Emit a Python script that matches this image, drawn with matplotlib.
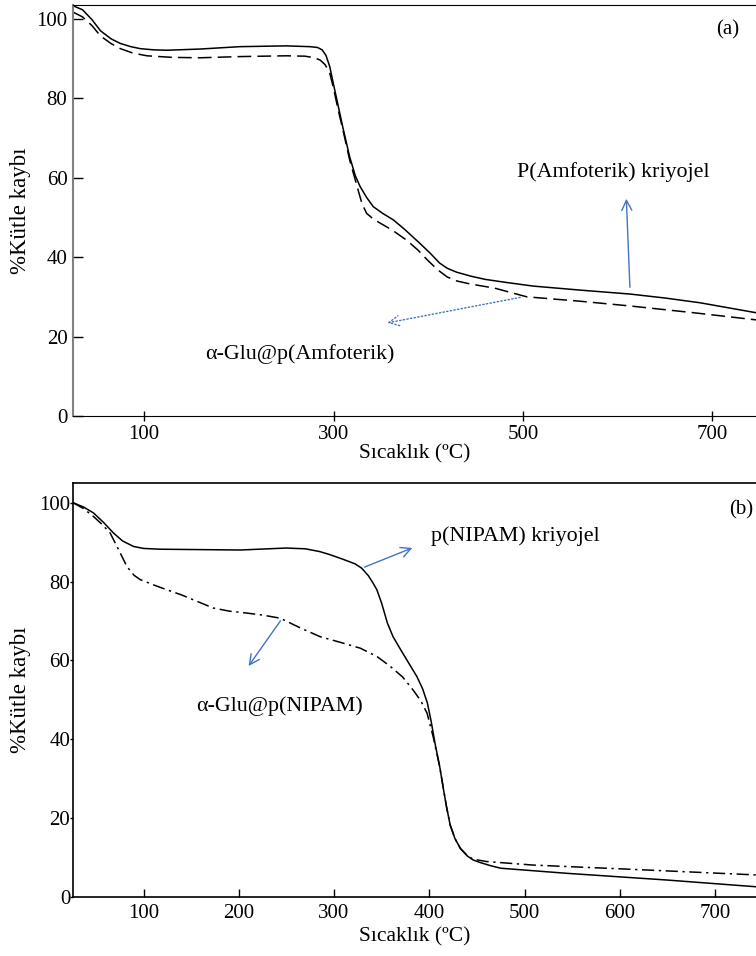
import matplotlib.pyplot as plt

plt.rcParams['font.family'] = ['Liberation Serif', 'DejaVu Serif']
plt.rcParams['font.size'] = 15

# (a) P(Amfoterik) kriyojel and α-Glu@p(Amfoterik)
temp_amf = [25, 35, 45, 54, 65, 75, 86, 96, 110, 124, 159, 201, 250, 275, 283, 288, 292,
            296, 300, 305, 310, 317, 323, 328, 335, 342, 352, 363, 375, 391, 402, 412, 420,
            430, 445, 460, 480, 511, 560, 613, 650, 687, 746]
kayip_amf = [103.3, 102.3, 99.8, 97.0, 95.0, 93.8, 93.0, 92.5, 92.2, 92.1, 92.4, 93.0, 93.2,
             93.0, 92.8, 92.2, 90.8, 88.0, 83.5, 78.0, 72.5, 65.3, 60.5, 57.8, 55.0, 52.7,
             51.0, 49.4, 47.0, 43.5, 41.0, 38.5, 37.2, 36.2, 35.2, 34.4, 33.7, 32.7, 31.7,
             30.7, 29.7, 28.5, 26.0]

temp_glu_amf = [25, 35, 45, 54, 65, 75, 88, 103, 130, 159, 201, 250, 270, 280, 286, 291, 296,
                300, 305, 310, 317, 325, 330, 335, 342, 349, 362, 377, 389, 399, 410, 420,
                430, 445, 470, 504, 560, 613, 680, 746]
kayip_glu_amf = [101.7, 100.5, 98.3, 95.7, 93.8, 92.5, 91.4, 90.7, 90.3, 90.2, 90.5, 90.7, 90.6,
                 90.2, 89.6, 88.5, 86.4, 82.5, 77.0, 72.0, 64.5, 57.7, 53.5, 51.0, 49.6, 48.6,
                 46.8, 44.3, 41.8, 39.3, 36.8, 35.0, 34.0, 33.2, 32.2, 30.0, 28.9, 27.7, 26.0,
                 24.2]

# (b) p(NIPAM) kriyojel and α-Glu@p(NIPAM)
temp_nipam = [26, 37, 47.5, 58, 68.5, 78, 89.5, 100, 117.5, 160, 201.6, 250, 270, 285, 296,
              310, 322, 329, 336, 341, 345, 350, 356, 362, 370, 378, 387, 393, 398, 402, 406,
              411, 415, 418, 422, 427, 432.7, 440, 446, 454, 465, 475, 545, 650, 743]
kayip_nipam = [100.0, 98.9, 97.4, 95.0, 92.3, 90.3, 88.9, 88.4, 88.2, 88.1, 88.0, 88.5, 88.3,
               87.6, 86.8, 85.6, 84.5, 83.4, 81.5, 79.6, 77.9, 74.5, 69.5, 66.0, 62.7, 59.5,
               55.9, 52.8, 49.2, 44.5, 39.0, 33.0, 27.2, 23.0, 18.2, 14.8, 12.3, 10.4, 9.4,
               8.7, 7.9, 7.3, 6.0, 4.3, 2.6]

temp_glu_nipam = [26, 37, 47.5, 56, 65, 74, 82.6, 90, 96.5, 110, 124.6, 140, 152, 173, 190,
                  208.6, 225, 243.6, 265, 285.6, 305, 327.6, 345, 359, 372, 383, 391, 397.7,
                  404, 411, 415, 418, 422, 427, 432.7, 440, 446, 460, 509, 614.6, 743]
kayip_glu_nipam = [100.0, 98.5, 96.5, 94.6, 92.3, 88.0, 83.8, 81.6, 80.5, 79.2, 77.9, 76.6,
                   75.4, 73.3, 72.5, 72.0, 71.5, 70.7, 68.2, 66.0, 64.7, 63.1, 61.0, 58.5,
                   55.8, 52.5, 49.8, 46.6, 40.7, 33.0, 27.2, 23.0, 18.2, 14.8, 12.3, 10.5,
                   9.6, 9.0, 8.1, 7.0, 5.6]

blue = '#4472C4'
ann_size = 15.8

fig = plt.figure(figsize=(7.56, 9.56), dpi=100)

# ---- panel (a)
ax1 = fig.add_axes([0.0966, 0.5649, 0.9034, 0.4299])
ax1.plot(temp_amf, kayip_amf, color='black', lw=1.1)
ax1.plot(temp_glu_amf, kayip_glu_amf, color='black', lw=1.1, dashes=(9, 4))
ax1.set_xlim(25, 746)
ax1.set_ylim(0, 103.5)
ax1.set_xticks([100, 300, 500, 700])
ax1.set_yticks([0, 20, 40, 60, 80, 100])
ax1.tick_params(axis='y', direction='in', length=7, width=1, pad=4)
ax1.tick_params(axis='x', direction='inout', length=7, width=1, pad=3)
ax1.spines['right'].set_visible(False)
ax1.spines['left'].set_color('#808080')
ax1.spines['left'].set_linewidth(1.5)
ax1.set_xlabel('Sıcaklık (ºC)', fontsize=15.5, labelpad=0)
ax1.set_ylabel('%Kütle kaybı', fontsize=16.5, labelpad=4)

ax1.text(595, 61.3, 'P(Amfoterik) kriyojel', ha='center', va='center', fontsize=ann_size)
ax1.annotate('', xy=(609, 55.4), xytext=(613, 31.7),
             arrowprops=dict(arrowstyle='->', color=blue, lw=1, mutation_scale=18))
ax1.text(264, 15.6, 'α-Glu@p(Amfoterik)', ha='center', va='center', fontsize=ann_size)
ax1.annotate('', xy=(354, 23.3), xytext=(500, 30.0),
             arrowprops=dict(arrowstyle='->', color=blue, lw=1, ls=':', mutation_scale=18))
ax1.text(716, 97.2, '(a)', ha='center', va='center')

# ---- panel (b)
ax2 = fig.add_axes([0.0966, 0.0617, 0.9034, 0.4331])
ax2.plot(temp_nipam, kayip_nipam, color='black', lw=1.1)
ax2.plot(temp_glu_nipam, kayip_glu_nipam, color='black', lw=1.1, dashes=(8, 3, 1.5, 3))
ax2.set_xlim(26, 743)
ax2.set_ylim(0, 105)
ax2.set_xticks([100, 200, 300, 400, 500, 600, 700])
ax2.set_yticks([0, 20, 40, 60, 80, 100])
ax2.tick_params(axis='y', direction='out', length=2, width=1, pad=0)
ax2.tick_params(axis='x', direction='in', length=6, width=1, pad=5)
ax2.spines['right'].set_visible(False)
for s in ['left', 'bottom', 'top']:
    ax2.spines[s].set_linewidth(1.2)
ax2.set_xlabel('Sıcaklık (ºC)', fontsize=15.5, labelpad=3)
ax2.set_ylabel('%Kütle kaybı', fontsize=16.5, labelpad=6)

ax2.text(402, 91.4, 'p(NIPAM) kriyojel', ha='left', va='center', fontsize=ann_size)
ax2.annotate('', xy=(385, 88.8), xytext=(329.3, 83.4),
             arrowprops=dict(arrowstyle='->', color=blue, lw=1, mutation_scale=18))
ax2.text(242.5, 48.3, 'α-Glu@p(NIPAM)', ha='center', va='center', fontsize=ann_size)
ax2.annotate('', xy=(208.6, 58.0), xytext=(245.4, 70.6),
             arrowprops=dict(arrowstyle='->', color=blue, lw=1, mutation_scale=18))
ax2.text(727, 98.2, '(b)', ha='center', va='center')

fig.savefig('out.png', dpi=100)
